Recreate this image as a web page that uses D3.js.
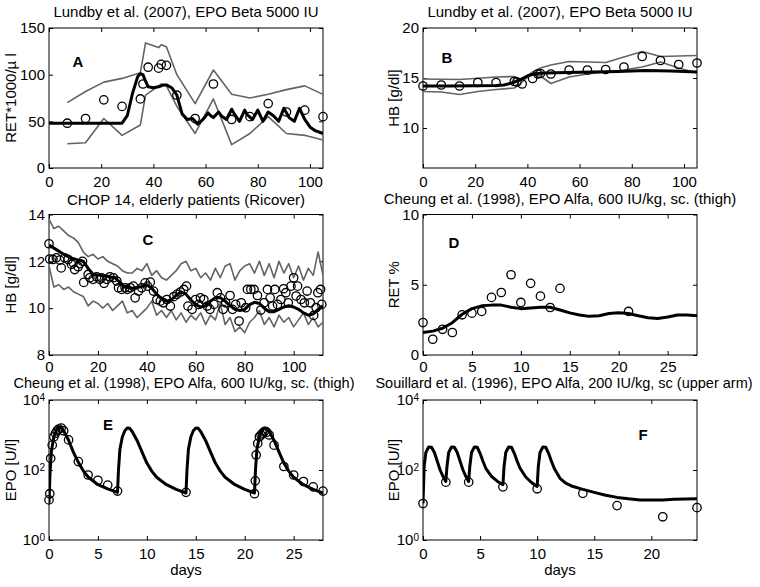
<!DOCTYPE html>
<html><head><meta charset="utf-8">
<script src="https://cdn.jsdelivr.net/npm/d3@7"></script>
<style>
body{margin:0;background:#fff}
svg{display:block}
text{font-family:"Liberation Sans",Arial,Helvetica,sans-serif;fill:#000}
</style>
</head><body>
<svg id="c" width="760" height="587"></svg>
<script>
// ---------- Panel A : RET, Lundby ----------
const aObsDay = [7,14,21,28,35,36,38,42,43,45,49,56,63,70,77,84,91,98,105];
const aObs    = [48,53,73,66,74,90,108,107,111,110,78,53,90,52,55,69,60,62,55];
const aBandDay = [7,14,21,28,35,37,42,43,45,49,56,63,70,77,84,91,98,105];
const aUpper   = [70,82,92,96,102,134,129,132,130,100,69,105,79,75,79,84,88,79];
const aLower   = [26,27,53,35,46,78,88,90,88,66,37,74,25,37,55,37,35,30];
const aModelDay = [0,28,30,32,34,35,36,37,38,40,42,44,45,47,49,51,53,55,57,59,61,62,63,65,66,68,70,71,73,75,76,78,80,82,84,86,88,90,92,94,96,98,100,102,105];
const aModel    = [48,48,56,80,98,101,100,93,87,86,87,89,89,86,78,58,52,53,47,52,59,56,54,60,56,52,63,58,50,62,57,52,62,50,60,56,50,64,54,50,64,52,44,40,37];

// ---------- Panel B : HB, Lundby ----------
const bObsDay = [0,7,14,21,28,35,36,38,42,44,45,49,56,63,70,77,84,91,98,105];
const bObs    = [14.2,14.3,14.2,14.55,14.55,14.65,14.6,14.4,14.95,15.4,15.45,15.4,15.8,15.8,15.85,16.1,17.15,16.75,16.35,16.5];
const bUpperDay = [0,14,28,35,38,42,45,49,56,63,70,77,84,91,98,105];
const bUpper    = [14.9,14.85,15.1,15.15,14.8,15.6,16.0,16.3,16.65,16.6,16.55,17.1,17.65,17.15,17.2,17.25];
const bLowerDay = [0,7,14,21,28,35,37,42,45,49,56,63,70,77,84,91,98,105];
const bLower    = [13.65,13.6,13.35,13.65,13.85,14.0,14.4,15.5,15.2,14.45,15.1,15.4,15.6,15.8,16.1,16.6,16.0,15.5];
const bModelDay = [0,10,20,28,31,34,37,40,43,47,55,65,75,85,95,105];
const bModel    = [14.2,14.2,14.22,14.25,14.3,14.5,14.8,15.2,15.45,15.5,15.55,15.6,15.65,15.75,15.7,15.6];

// ---------- Panel C : HB, CHOP 14 ----------
const cObsDay = [0,0.3,1.6,3,4.4,5,6.4,7.8,9.2,9.9,10.5,11.9,12.6,13.7,14.2,16,16.7,18,19.5,20.8,21.5,22.5,23.6,24.9,26.3,27.7,28.4,29.7,31.1,32,33.2,34.5,35.2,36.6,37.9,39.3,40.3,41.4,42.7,44.1,45.5,46.8,48.2,49.6,51,52.3,53.7,55.1,56.2,56.8,58.5,59.9,61.2,61.9,63.3,64.7,65.8,67.4,68.8,70.1,71.2,72.2,74,75,76.3,77.7,78.6,80.4,81.1,82.5,83.8,85.2,86.6,87.9,89.3,90.4,91.4,92.3,93.4,94.8,95.9,96.8,97.8,98.9,100,101,101.6,103,104.4,105.5,106.8,108.2,109.2,109.9,111,111.5];
const cObs    = [12.75,12.1,12.08,12.15,12.05,11.72,12.15,12.08,11.87,11.94,11.65,11.77,11.9,12.0,11.1,11.44,11.3,11.23,11.34,11.23,11.3,11.06,11.23,11.34,11.3,11.16,10.87,10.8,10.87,10.8,10.87,10.94,10.44,10.73,10.87,11.08,10.94,11.11,10.73,10.37,10.3,10.23,10.37,10.09,10.49,10.59,10.69,10.8,10.94,10.09,9.95,10.37,10.16,10.44,10.37,10.09,9.95,10.16,10.66,10.44,9.95,10.23,10.54,9.95,10.16,9.45,10.23,10.02,10.8,10.8,10.8,10.54,9.92,10.23,10.8,10.44,10.09,10.8,10.16,10.37,10.83,10.66,10.23,10.94,11.3,10.52,10.94,10.37,10.23,10.73,10.23,9.69,10.02,10.66,10.8,10.16];
const cBandDay = [0,2,4,6,8,10,12,14,16,18,20,22,24,26,28,30,32,34,36,38,40,42,44,46,48,50,52,54,56,58,60,62,64,66,68,70,72,74,76,78,80,82,84,86,88,90,92,94,96,98,100,102,104,106,108,110,112];
const cUpper   = [13.8,13.4,13.5,13.3,13.1,13.0,12.8,12.4,12.2,12.3,12.1,12.2,12.0,11.9,11.8,11.6,11.5,11.5,11.7,11.6,11.9,11.4,11.6,11.3,11.2,11.4,11.6,11.9,12.0,11.6,11.7,11.3,11.5,11.2,11.7,11.3,11.8,11.9,11.2,11.6,11.8,11.9,11.5,12.0,11.4,11.9,11.3,12.0,11.5,11.9,11.3,11.8,11.2,11.7,11.4,12.4,11.4];
const cLower   = [11.8,10.9,11.0,10.8,10.9,10.7,10.6,10.5,10.1,10.3,10.2,10.0,10.2,9.9,10.1,10.3,9.8,9.9,9.6,9.8,10.0,10.3,9.7,9.9,9.6,9.9,9.5,9.8,9.4,9.7,9.5,9.8,9.3,9.7,9.5,10.2,9.3,9.6,9.0,9.2,8.95,9.4,9.6,9.9,9.3,9.6,9.2,9.7,9.4,9.6,9.2,9.5,9.8,9.3,9.6,9.2,9.4];
const cModelDay = [0,3,6,9,12,14,16,18,21,24,27,29,31,34,37,40,42,44,46,48,50,52,54,56,58,60,62,64,66,68,70,72,74,76,78,80,82,84,86,88,90,92,94,96,98,100,102,104,106,108,110,112];
const cModel    = [12.7,12.5,12.3,12.15,12.05,12.0,11.7,11.45,11.4,11.35,11.3,11.1,10.9,10.85,10.9,11.0,10.85,10.6,10.4,10.3,10.35,10.55,10.7,10.6,10.35,10.15,10.05,10.1,10.3,10.45,10.45,10.3,10.1,9.95,9.9,9.95,10.15,10.25,10.2,10.0,9.85,9.85,9.95,10.05,10.1,10.05,9.95,9.8,9.7,9.75,9.95,10.1];

// ---------- Panel D : RET %, Cheung ----------
const dObsDay = [0,1,2,3,4,5,6,7,8,9,10,11,12,13,14,21];
const dObs    = [2.31,1.12,1.83,1.6,2.86,2.98,3.1,4.1,4.45,5.71,3.74,5.1,4.19,3.38,4.74,3.1];
const dModelDay = [0,1,2,3,4,5,6,7,8,9,10,11,12,13,14,15,16,17,18,19,20,21,22,23,24,25,26,27,28];
const dModel    = [1.6,1.7,1.9,2.3,2.9,3.3,3.5,3.55,3.55,3.4,3.3,3.35,3.4,3.4,3.2,3.0,2.85,2.75,2.8,2.95,3.0,2.95,2.8,2.65,2.6,2.7,2.85,2.85,2.8];

// ---------- Panel E : EPO, Cheung ----------
const eObsDay = [0,0.08,0.17,0.33,0.5,0.67,0.83,1,1.25,1.5,2,3,4,5,6,7,14,21,21.08,21.17,21.33,21.5,21.67,21.83,22,22.25,22.5,23,24,25,26,27,28];
const eObs    = [14,21,214,513,891,1122,1318,1479,1585,1318,724,174,72,51,37,25,23,21,49,269,575,891,1000,1122,1259,1202,1000,513,126,72,47,33,25];
const eModelDay = [0,0.1,0.25,0.5,0.75,1,1.25,1.5,2,2.5,3,3.5,4,5,6,7,
  7.1,7.25,7.5,7.75,8,8.25,8.5,9,9.5,10,10.5,11,12,13,14,
  14.1,14.25,14.5,14.75,15,15.25,15.5,16,16.5,17,17.5,18,19,20,21,
  21.1,21.25,21.5,21.75,22,22.25,22.5,23,23.5,24,24.5,25,26,27,28];
const eModel    = [11,79,355,891,1350,1660,1660,1320,710,320,166,95,63,38,29,23,
  100,400,890,1320,1580,1550,1260,700,330,158,93,62,38,28,22,
  100,400,890,1320,1580,1550,1260,700,330,158,93,62,38,28,22,
  100,400,890,1320,1580,1550,1260,700,330,158,93,62,38,28,22];

// ---------- Panel F : EPO, Souillard ----------
const fObsDay = [0,2,4,7,10,14,17,21,24];
const fObs    = [11,45,45,33,29,21.5,9.6,4.6,8.4];
const fModelDay = [0,0.1,0.25,0.5,0.75,1,1.25,1.5,1.75,2,
  2.1,2.25,2.5,2.75,3,3.25,3.5,3.75,4,
  4.1,4.25,4.5,4.75,5,5.25,5.5,6,6.5,7,
  7.1,7.25,7.5,7.75,8,8.25,8.5,9,9.5,10,
  10.1,10.25,10.5,10.75,11,11.25,11.5,12,12.5,13,14,15,16,17,18,19,20,21,22,23,24];
const fModel    = [11,126,316,457,447,316,178,100,66,47,
  126,316,457,447,316,178,100,66,47,
  126,316,457,447,300,178,112,66,48,38,
  126,316,457,447,300,178,112,63,44,34,
  126,316,457,447,300,178,110,58,42,35,28,23,19,16.5,15,14,13.8,14,14.5,14.8,15];

// ---------- tick labels ----------
const xTicks105 = [0,20,40,60,80,100];
const xTicks28 = [0,5,10,15,20,25];
const xTicks24 = [0,5,10,15,20];
const yTicksA = [0,50,100,150];
const yTicksB = [10,15,20];
const yTicksC = [8,10,12,14];
const yTicksD = [0,5,10];
const yTicksLog = [1,100,10000];

// ---------- drawing ----------
const svg = d3.select("#c");
const GRAY = "#636363";
const FS = 15;

function panel(o){
  const g = svg.append("g");
  const x = d3.scaleLinear().domain(o.xd).range([o.x0, o.x1]);
  const y = (o.log ? d3.scaleLog() : d3.scaleLinear()).domain(o.yd).range([o.y1, o.y0]);
  const cid = "clip" + o.letter;
  svg.append("clipPath").attr("id", cid).append("rect")
    .attr("x", o.x0).attr("y", o.y0).attr("width", o.x1 - o.x0).attr("height", o.y1 - o.y0);

  g.append("g").attr("transform", `translate(0,${o.y1})`)
    .call(d3.axisBottom(x).tickValues(o.xt).tickSizeInner(-4).tickSizeOuter(0).tickPadding(o.xpad || 8).tickFormat(d3.format("d")));
  g.append("g").attr("transform", `translate(0,${o.y0})`)
    .call(d3.axisTop(x).tickValues(o.xt).tickSizeInner(-4).tickSizeOuter(0).tickFormat(""));
  const axL = g.append("g").attr("transform", `translate(${o.x0},0)`)
    .call(d3.axisLeft(y).tickValues(o.yt).tickSizeInner(-4).tickSizeOuter(0).tickPadding(4)
      .tickFormat(o.log ? (d => "") : d3.format("d")));
  g.append("g").attr("transform", `translate(${o.x1},0)`)
    .call(d3.axisRight(y).tickValues(o.yt).tickSizeInner(-4).tickSizeOuter(0).tickFormat(""));
  g.selectAll(".domain").remove();
  g.selectAll(".tick line").attr("stroke", "#000");
  g.selectAll(".tick text").attr("font-size", FS).attr("font-family", null).style("fill", "#000");

  if (o.log) {
    axL.selectAll(".tick text").each(function(d){
      const t = d3.select(this);
      t.text(null);
      t.append("tspan").text("10");
      t.append("tspan").attr("dy", "-0.4em").attr("font-size", 10).text(Math.round(Math.log10(d)));
    });
  }

  g.append("rect").attr("x", o.x0).attr("y", o.y0).attr("width", o.x1 - o.x0).attr("height", o.y1 - o.y0)
    .attr("fill", "none").attr("stroke", "#000").attr("stroke-width", 1);

  g.append("text").attr("x", o.tx).attr("y", o.titleY).attr("text-anchor", "middle")
    .attr("font-size", o.tfs || FS).text(o.title);
  g.append("text").attr("transform", `translate(${o.ylabX},${(o.y0 + o.y1) / 2}) rotate(-90)`)
    .attr("text-anchor", "middle").attr("font-size", FS).text(o.ylab);
  if (o.xlab) g.append("text").attr("x", (o.x0 + o.x1) / 2).attr("y", 575).attr("text-anchor", "middle")
    .attr("font-size", FS).text(o.xlab);
  g.append("text").attr("x", o.lx).attr("y", o.ly).attr("text-anchor", "middle")
    .attr("font-size", FS).attr("font-weight", "bold").text(o.letter);

  const plot = g.append("g").attr("clip-path", `url(#${cid})`);
  const line = d3.line().x(d => x(d[0])).y(d => y(d[1]));
  (o.bands || []).forEach(b => {
    plot.append("path").datum(d3.zip(b[0], b[1])).attr("d", line)
      .attr("fill", "none").attr("stroke", GRAY).attr("stroke-width", 1.6).attr("stroke-linejoin", "round");
  });
  plot.append("path").datum(d3.zip(o.mDay, o.m)).attr("d", line)
    .attr("fill", "none").attr("stroke", "#000").attr("stroke-width", 3).attr("stroke-linejoin", "round");
  g.append("g").selectAll("circle").data(d3.zip(o.oDay, o.o)).join("circle")
    .attr("cx", d => x(d[0])).attr("cy", d => y(d[1])).attr("r", 4.2)
    .attr("fill", "none").attr("stroke", "#000").attr("stroke-width", 1.3);
}

const L = {x0: 49, x1: 323}, R = {x0: 423, x1: 697};
const r1 = {y0: 28, y1: 168}, r2 = {y0: 214.5, y1: 355}, r3 = {y0: 400, y1: 540};

panel({...L, ...r1, letter: "A", xd: [0,105], yd: [0,150], xt: xTicks105, yt: yTicksA,
  title: "Lundby et al. (2007), EPO Beta 5000 IU", tx: 186, titleY: 17, ylab: "RET*1000/\u00b5 l", ylabX: 16,
  lx: 78, ly: 67, bands: [[aBandDay, aUpper], [aBandDay, aLower]], mDay: aModelDay, m: aModel, oDay: aObsDay, o: aObs});
panel({...R, ...r1, letter: "B", xd: [0,105], yd: [6,20], xt: xTicks105, yt: yTicksB,
  title: "Lundby et al. (2007), EPO Beta 5000 IU", tx: 560, titleY: 17, ylab: "HB [g/dl]", ylabX: 399,
  lx: 447, ly: 63, bands: [[bUpperDay, bUpper], [bLowerDay, bLower]], mDay: bModelDay, m: bModel, oDay: bObsDay, o: bObs});
panel({...L, ...r2, letter: "C", xd: [0,112], yd: [8,14], xt: xTicks105, yt: yTicksC, xpad: 6,
  title: "CHOP 14, elderly patients (Ricover)", tx: 186, titleY: 205, ylab: "HB [g/dl]", ylabX: 16,
  lx: 148, ly: 245, bands: [[cBandDay, cUpper], [cBandDay, cLower]], mDay: cModelDay, m: cModel, oDay: cObsDay, o: cObs});
panel({...R, ...r2, letter: "D", xd: [0,28], yd: [0,10], xt: xTicks28, yt: yTicksD, xpad: 6,
  title: "Cheung et al. (1998), EPO Alfa, 600 IU/kg, sc. (thigh)", tx: 560, titleY: 204, ylab: "RET %", ylabX: 399,
  lx: 454, ly: 248, bands: [], mDay: dModelDay, m: dModel, oDay: dObsDay, o: dObs});
panel({...L, ...r3, letter: "E", xd: [0,28], yd: [1,10000], log: true, xt: xTicks28, yt: yTicksLog,
  title: "Cheung et al. (1998), EPO Alfa, 600 IU/kg, sc. (thigh)", tx: 184, titleY: 388, tfs: 14.5, ylab: "EPO [U/l]", ylabX: 16,
  xlab: "days", lx: 108, ly: 430, bands: [], mDay: eModelDay, m: eModel, oDay: eObsDay, o: eObs});
panel({...R, ...r3, letter: "F", xd: [0,24], yd: [1,10000], log: true, xt: xTicks24, yt: yTicksLog,
  title: "Souillard et al. (1996), EPO Alfa, 200 IU/kg, sc (upper arm)", tx: 564, titleY: 388, tfs: 14.5, ylab: "EPO [U/l]", ylabX: 399,
  xlab: "days", lx: 643, ly: 440, bands: [], mDay: fModelDay, m: fModel, oDay: fObsDay, o: fObs});
</script>
</body></html>
